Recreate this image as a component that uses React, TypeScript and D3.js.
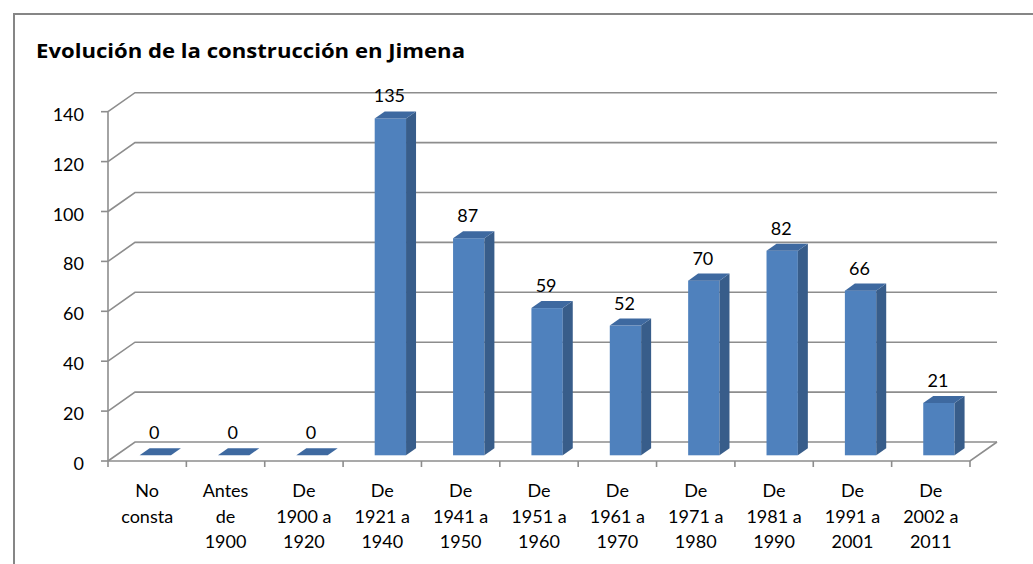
import React from "react";
import * as d3 from "d3";

const categories: string[][] = [
  ["No", "consta"],
  ["Antes", "de", "1900"],
  ["De", "1900 a", "1920"],
  ["De", "1921 a", "1940"],
  ["De", "1941 a", "1950"],
  ["De", "1951 a", "1960"],
  ["De", "1961 a", "1970"],
  ["De", "1971 a", "1980"],
  ["De", "1981 a", "1990"],
  ["De", "1991 a", "2001"],
  ["De", "2002 a", "2011"],
];
const values: number[] = [0, 0, 0, 135, 87, 59, 52, 70, 82, 66, 21];
const yTicks: number[] = [0, 20, 40, 60, 80, 100, 120, 140];
const title = "Evolución de la construcción en Jimena";

const W = 1033;
const H = 564;
const FONT = "Lato, 'Open Sans', sans-serif";
const GRID = "#8d8d8d";

export default function App() {
  const keys = categories.map((_, i) => String(i));
  const x = d3.scaleBand<string>().domain(keys).range([108, 970]).padding(0);
  const y = d3.scaleLinear().domain([0, 140]).range([461, 111.7]);
  const depth = { dx: 27, dy: -19 };
  const fF = 0.3;
  const fB = 0.67;
  const bw = x.bandwidth();
  const barW = bw * 0.4;

  const gridPaths = yTicks.map((t) => {
    const yy = y(t);
    return `M${108},${yy} L${108 + depth.dx},${yy + depth.dy} L${970 + depth.dx},${yy + depth.dy}`;
  });

  return (
    <svg width={W} height={H} style={{ position: "absolute", left: 0, top: 0, background: "#fff" }}>
      <rect x={14} y={14} width={W + 20} height={H + 20} fill="#fff" stroke="#868686" strokeWidth={2} />
      <text
        x={36}
        y={58}
        fontFamily="'Open Sans', Lato, sans-serif"
        fontWeight="bold"
        fontSize={19}
        textLength={429}
        lengthAdjust="spacingAndGlyphs"
        fill="#000"
      >
        {title}
      </text>
      {/* grid */}
      {gridPaths.map((d, i) => (
        <path key={i} d={d} fill="none" stroke={GRID} strokeWidth={1.6} />
      ))}
      {/* floor front & right */}
      <path
        d={`M108,${y(0)} L970,${y(0)} L${970 + depth.dx},${y(0) + depth.dy}`}
        fill="none"
        stroke={GRID}
        strokeWidth={1.6}
      />
      {/* left axis */}
      <line x1={108} x2={108} y1={y(140)} y2={y(0)} stroke={GRID} strokeWidth={1.6} />
      {yTicks.map((t) => (
        <g key={t}>
          <line x1={101} x2={108} y1={y(t)} y2={y(t)} stroke={GRID} strokeWidth={1.6} />
          <text x={84} y={y(t) + 9} textAnchor="end" fontFamily={FONT} fontSize={18} fill="#000">
            {t}
          </text>
        </g>
      ))}
      {/* category ticks */}
      {[...keys.map((k) => x(k) as number), 970].map((xx, i) => (
        <line key={i} x1={xx} x2={xx} y1={y(0)} y2={y(0) + 6} stroke={GRID} strokeWidth={1.6} />
      ))}
      {/* bars */}
      {values.map((v, i) => {
        const x0 = (x(keys[i]) as number) + (bw - barW) / 2 + depth.dx * fF;
        const x1 = x0 + barW;
        const base = y(0) + depth.dy * fF;
        const top = base - (y(0) - y(v));
        const ddx = depth.dx * (fB - fF);
        const ddy = depth.dy * (fB - fF);
        const cx = (x0 + x1) / 2 - 1;
        return (
          <g key={i}>
            {v > 0 && (
              <>
                <rect x={x0} y={top} width={barW} height={base - top} fill="#4f81bd" />
                <path
                  d={`M${x1},${top} L${x1 + ddx},${top + ddy} L${x1 + ddx},${base + ddy} L${x1},${base} Z`}
                  fill="#385d8a"
                />
              </>
            )}
            <path
              d={`M${x0},${top} L${x1},${top} L${x1 + ddx},${top + ddy} L${x0 + ddx},${top + ddy} Z`}
              fill="#3e69a0"
            />
            <text
              x={cx}
              y={top + ddy - 9}
              textAnchor="middle"
              fontFamily={FONT}
              fontSize={18}
              fill="#000"
            >
              {v}
            </text>
          </g>
        );
      })}
      {/* category labels */}
      {categories.map((lines, i) => (
        <text
          key={i}
          x={(x(keys[i]) as number) + bw / 2}
          textAnchor="middle"
          fontFamily={FONT}
          fontSize={18}
          fill="#000"
        >
          {lines.map((l, j) => (
            <tspan key={j} x={(x(keys[i]) as number) + bw / 2} y={497 + j * 25.7}>
              {l}
            </tspan>
          ))}
        </text>
      ))}
    </svg>
  );
}
